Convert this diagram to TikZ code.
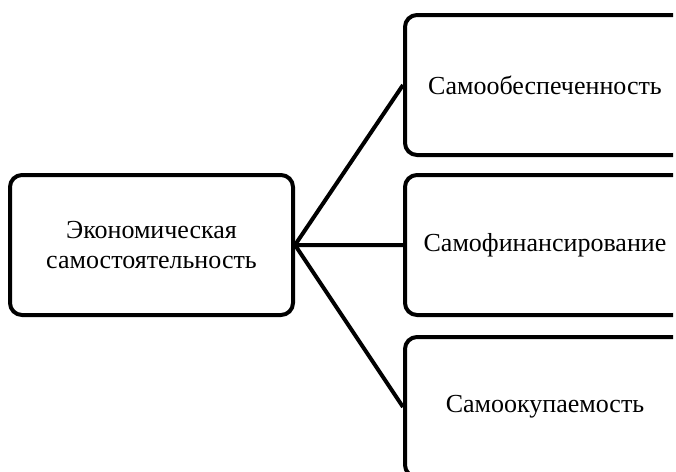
\documentclass[tikz,border=0pt]{standalone}
\usepackage{fontspec}
\setmainfont{Liberation Serif}
\begin{document}
\begin{tikzpicture}[x=0.5pt,y=-0.5pt,line width=2pt,
	blok/.style={draw,rounded corners=6pt,align=center,inner sep=0pt,minimum height=70pt,font=\fontsize{13}{15}\selectfont}]
			\useasboundingbox (0,0) rectangle (676,472);
			\clip (0,0) rectangle (673,472);
			%		\draw[thin,color=gray!20](0,0)grid[step=50](676,472);
			\node[blok,minimum width=141.5pt] (ekon) at (151.5,245) {Экономическая\\самостоятельность};
			\node[blok,minimum width=140pt] (obesp) at (545,85) {Самообеспеченность};
			\node[blok,minimum width=140pt] (finans) at (545,245) {Самофинансирование};
			\node[blok,minimum width=140pt] (okup) at (545,407) {Самоокупаемость};
			\draw (ekon.east)--(obesp.west) (ekon.east)--(finans.west) (ekon.east)--(okup.west);
	\end{tikzpicture}
\end{document}
